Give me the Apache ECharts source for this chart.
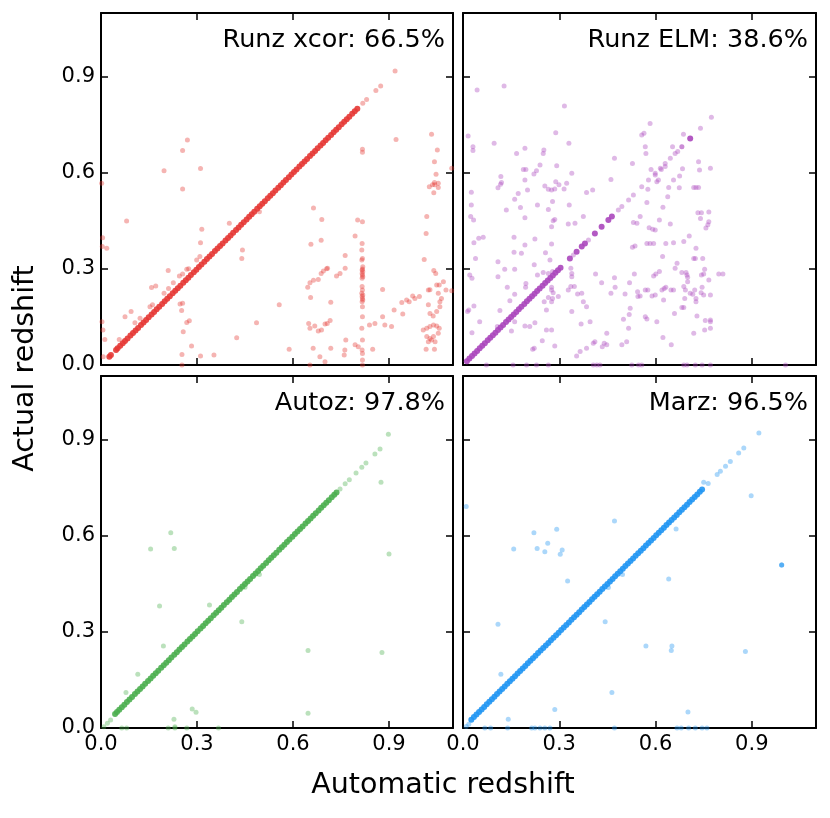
<!DOCTYPE html>
<html><head><meta charset="utf-8">
<script src="https://cdn.jsdelivr.net/npm/echarts@6/dist/echarts.min.js"></script>
<style>html,body{margin:0;padding:0;background:#fff}#c{width:830px;height:818px}</style>
</head><body><div id="c"></div><script>
// ---- text ----
const panelNames = ['Runz xcor: 66.5%', 'Runz ELM: 38.6%', 'Autoz: 97.8%', 'Marz: 96.5%'];
const xTitle = 'Automatic redshift';
const yTitle = 'Actual redshift';
const tickLabels = ['0.0', '0.3', '0.6', '0.9'];
const axisMin = 0, axisMax = 1.1, tickStep = 0.3;

// ---- Runz xcor ----
const xcorMatched = [0.026,0.031,0.047,0.052,0.06,0.068,0.075,0.083,0.092,0.1,0.108,0.116,0.125,0.133,0.141,0.149,0.158,0.166,0.174,0.182,0.191,0.199,0.207,0.215,0.224,0.232,0.24,0.248,0.257,0.265,0.273,0.281,0.29,0.298,0.306,0.314,0.323,0.331,0.339,0.347,0.356,0.364,0.372,0.38,0.389,0.397,0.405,0.413,0.422,0.43,0.438,0.446,0.455,0.463,0.471,0.479,0.488,0.496,0.504,0.512,0.521,0.529,0.537,0.545,0.554,0.562,0.57,0.578,0.587,0.595,0.603,0.611,0.62,0.628,0.636,0.644,0.653,0.661,0.669,0.677,0.686,0.694,0.702,0.71,0.719,0.727,0.735,0.743,0.752,0.76,0.768,0.776,0.785,0.793,0.801];
const xcorOther = [[0.002,0.568],[0.005,0.398],[0.018,0.365],[0.004,0.37],[0.003,0.135],[0.006,0.109],[0.012,0.08],[0.007,0.026],
[0.08,0.45],[0.197,0.607],[0.255,0.67],[0.27,0.703],[0.255,0.55],[0.311,0.614],[0.315,0.424],[0.311,0.382],[0.309,0.339],
[0.21,0.295],[0.247,0.191],[0.255,0.193],[0.252,0.17],[0.257,0.104],[0.268,0.133],[0.276,0.138],[0.253,0.033],[0.253,0],
[0.283,0.059],[0.311,0.028],[0.353,0.031],[0.401,0.443],[0.442,0.359],[0.44,0.333],[0.424,0.085],[0.486,0.132],[0.495,0.479],
[0.557,0.188],[0.588,0.049],[0.653,0],[0.664,0.491],[0.69,0.455],[0.656,0.377],[0.688,0.39],
[0.646,0.243],[0.653,0.257],[0.664,0.265],[0.679,0.267],[0.688,0.286],[0.695,0.294],[0.705,0.301],[0.708,0.302],
[0.655,0.211],[0.718,0.196],
[0.649,0.13],[0.653,0.115],[0.668,0.122],[0.679,0.106],[0.689,0.109],[0.7,0.128],[0.707,0.13],[0.716,0.139],
[0.663,0.052],[0.684,0.026],[0.7,0.01],[0.718,0.052],
[0.736,0.278],[0.747,0.286],[0.763,0.302],[0.763,0.342],[0.794,0.403],[0.802,0.453],[0.817,0.448],[0.817,0.674],[0.817,0.665],
[0.765,0.078],[0.762,0.047],[0.76,0.031],[0.794,0.063],[0.804,0.057],
[0.816,0.38],[0.815,0.359],[0.817,0.333],[0.815,0.328],[0.818,0.307],[0.817,0.3],[0.816,0.297],[0.818,0.292],[0.816,0.286],[0.817,0.281],[0.818,0.276],[0.816,0.271],
[0.816,0.245],[0.817,0.234],[0.815,0.224],[0.818,0.219],[0.816,0.214],[0.817,0.208],[0.818,0.203],[0.816,0.198],[0.817,0.182],[0.817,0.151],[0.815,0.115],[0.817,0.078],[0.816,0.047],[0.817,0.036],[0.817,0.016],[0.817,0],
[0.849,0.049],[0.839,0.125],[0.856,0.13],[0.88,0.151],[0.887,0.125],[0.908,0.12],[0.88,0.236],
[0.916,0.172],[0.943,0.159],[0.94,0.195],[0.955,0.203],[0.963,0.198],[0.974,0.216],[0.981,0.208],[0.995,0.214],
[0.922,0.705],[1.01,0.33],[1.016,0.411],[1.018,0.464],[1.033,0.721],[1.051,0.672],[1.042,0.635],[1.047,0.596],[1.042,0.57],
[1.026,0.557],[1.036,0.563],[1.043,0.563],[1.054,0.568],[1.054,0.555],[1.04,0.538],[1.096,0.615],
[1.04,0.295],[1.046,0.286],[1.023,0.234],[1.028,0.235],[1.049,0.25],[1.057,0.25],[1.07,0.26],
[1.023,0.188],[1.028,0.161],[1.038,0.153],[1.049,0.167],[1.059,0.182],[1.064,0.208],[1.054,0.224],[1.059,0.198],[1.078,0.234],[1.096,0.232],
[1.007,0.109],[1.018,0.115],[1.028,0.12],[1.039,0.125],[1.049,0.122],[1.054,0.099],[1.018,0.089],[1.028,0.083],[1.039,0.089],[1.023,0.073],[1.033,0.078],[1.044,0.073],[1.016,0.049],[1.042,0.049],[1.057,0.115],
[0.057,0.08],[0.075,0.151],[0.094,0.167],[0.106,0.132],[0.122,0.146],[0.153,0.182],[0.161,0.188],[0.158,0.242],[0.171,0.247],[0.197,0.224],[0.211,0.239],[0.226,0.257],[0.245,0.278],[0.255,0.284],[0.268,0.299],[0.274,0.301],[0.299,0.328],
[0.818,0.818],[0.83,0.83],[0.859,0.858],[0.874,0.872],[0.919,0.919]];

// ---- Runz ELM ----
const elmMatched = [0.012,0.02,0.028,0.036,0.044,0.052,0.06,0.068,0.077,0.085,0.093,0.101,0.109,0.117,0.125,0.134,0.142,0.15,0.158,0.166,0.174,0.182,0.191,0.199,0.207,0.215,0.223,0.231,0.239,0.248,0.256,0.264,0.272,0.28,0.288,0.296,0.304,0.333,0.354,0.37,0.38,0.411,0.432,0.453,0.464,0.708];
const elmOther = [[0.044,0.859],[0.128,0.872],[0.316,0.809],[0.016,0.716],[0.031,0.682],[0.031,0.67],[0.097,0.693],[0.193,0.677],[0.167,0.661],[0.252,0.672],[0.25,0.661],[0.289,0.726],[0.33,0.693],[0.292,0.623],[0.24,0.625],[0.188,0.611],[0.196,0.611],[0.229,0.607],[0.221,0.597],[0.118,0.589],[0.12,0.57],[0.117,0.565],[0.109,0.554],[0.172,0.536],[0.193,0.578],[0.201,0.547],[0.161,0.518],[0.135,0.484],[0.179,0.492],[0.193,0.46],[0.255,0.559],[0.266,0.549],[0.276,0.547],[0.286,0.55],[0.289,0.573],[0.299,0.563],[0.323,0.568],[0.315,0.55],[0.339,0.599],[0.279,0.511],[0.266,0.486],[0.281,0.451],[0.276,0.432],[0.286,0.455],[0.331,0.5],[0.328,0.441],[0.349,0.443],[0.375,0.464],[0.385,0.539],[0.404,0.547],[0.461,0.58],[0.472,0.646],[0.528,0.63],[0.557,0.719],[0.564,0.724],[0.583,0.755],[0.568,0.682],[0.57,0.661],[0.586,0.611],[0.599,0.594],[0.604,0.573],[0.609,0.578],[0.63,0.62],[0.618,0.611],[0.653,0.682],[0.669,0.667],[0.687,0.721],[0.684,0.613],[0.656,0.578],[0.675,0.591],[0.674,0.554],[0.641,0.555],[0.638,0.526],[0.576,0.549],[0.573,0.508],[0.623,0.493],[0.612,0.453],[0.58,0.429],[0.599,0.422],[0.591,0.424],[0.646,0.441],[0.552,0.464],[0.531,0.445],[0.542,0.443],[0.734,0.635],[0.737,0.609],[0.771,0.615],[0.719,0.555],[0.726,0.555],[0.734,0.555],[0.732,0.476],[0.743,0.476],[0.766,0.478],[0.74,0.458],[0.766,0.448],[0.763,0.438],[0.757,0.428],[0.705,0.403],[0.688,0.386],[0.656,0.382],[0.632,0.38],[0.594,0.38],[0.573,0.38],[0.583,0.38],[0.536,0.372],[0.528,0.368],[0.622,0.339],[0.612,0.292],[0.601,0.284],[0.594,0.278],[0.599,0.219],[0.589,0.216],[0.576,0.234],[0.568,0.234],[0.552,0.216],[0.545,0.214],[0.544,0.229],[0.534,0.284],[0.519,0.257],[0.472,0.273],[0.474,0.243],[0.432,0.257],[0.413,0.284],[0.461,0.224],[0.505,0.222],[0.521,0.177],[0.518,0.158],[0.5,0.143],[0.516,0.115],[0.568,0.151],[0.573,0.144],[0.604,0.135],[0.62,0.234],[0.627,0.239],[0.632,0.243],[0.625,0.203],[0.648,0.234],[0.656,0.234],[0.661,0.302],[0.667,0.318],[0.682,0.289],[0.695,0.289],[0.7,0.274],[0.698,0.281],[0.7,0.26],[0.688,0.245],[0.693,0.234],[0.708,0.224],[0.716,0.221],[0.722,0.234],[0.719,0.333],[0.724,0.333],[0.726,0.365],[0.747,0.333],[0.753,0.299],[0.743,0.281],[0.75,0.284],[0.766,0.266],[0.745,0.243],[0.742,0.226],[0.75,0.219],[0.771,0.219],[0.726,0.208],[0.726,0.198],[0.691,0.208],[0.659,0.161],[0.682,0.18],[0.688,0.18],[0.729,0.153],[0.755,0.139],[0.771,0.141],[0.771,0.135],[0.753,0.109],[0.771,0.115],[0.719,0.099],[0.797,0.284],[0.81,0.284],[0.623,0.086],[0.649,0.063],[0.51,0.073],[0.495,0.063],[0.448,0.099],[0.44,0.068],[0.434,0.057],[0.448,0.063],[0.411,0.073],[0.406,0.068],[0.385,0.052],[0.365,0.042],[0.354,0.028],[0.396,0.135],[0.385,0.182],[0.375,0.198],[0.357,0.222],[0.37,0.224],[0.347,0.245],[0.336,0.245],[0.339,0.286],[0.339,0.276],[0.336,0.302],[0.328,0.234],[0.339,0.167],[0.368,0.128],[0.286,0.059],[0.247,0.076],[0.222,0.052],[0.217,0.049],[0.26,0.109],[0.276,0.109],[0.208,0.12],[0.193,0.122],[0.224,0.132],[0.26,0.172],[0.253,0.198],[0.276,0.198],[0.279,0.208],[0.276,0.234],[0.281,0.226],[0.276,0.243],[0.266,0.211],[0.297,0.214],[0.279,0.292],[0.266,0.286],[0.25,0.289],[0.271,0.328],[0.257,0.351],[0.276,0.378],[0.232,0.281],[0.222,0.313],[0.196,0.255],[0.195,0.243],[0.193,0.375],[0.182,0.349],[0.159,0.352],[0.159,0.399],[0.224,0.394],[0.161,0.299],[0.13,0.299],[0.109,0.323],[0.109,0.276],[0.138,0.243],[0.161,0.221],[0.146,0.201],[0.115,0.17],[0.151,0.106],[0.107,0.12],[0.161,0.135],[0.052,0.135],[0.028,0.101],[0.034,0.184],[0.014,0.167],[0.018,0.172],[0.021,0.281],[0.028,0.271],[0.039,0.333],[0.034,0.382],[0.049,0.396],[0.063,0.399],[0.024,0.464],[0.033,0.453],[0.026,0.5],[0.026,0.54],[0.232,0.5],
[0.073,0],[0.156,0],[0.198,0],[0.229,0],[0.266,0],[0.406,0],[0.417,0],[0.427,0],[0.526,0],[0.547,0],[0.557,0],[0.688,0],[0.698,0],[0.724,0],[0.745,0],[0.771,0],[1.005,0],
[0.344,0.344],[0.391,0.391],[0.484,0.484],[0.495,0.495],[0.516,0.516],[0.531,0.531],[0.557,0.557],[0.578,0.578],[0.599,0.599],[0.615,0.615],[0.63,0.63],[0.646,0.646],[0.661,0.661],[0.682,0.682],[0.682,0.682],[0.74,0.74],[0.774,0.774]];

// ---- Autoz ----
const autozMatched = [0.044,0.05,0.057,0.065,0.073,0.081,0.089,0.097,0.106,0.114,0.122,0.13,0.138,0.147,0.155,0.163,0.171,0.179,0.188,0.196,0.204,0.212,0.22,0.229,0.237,0.245,0.253,0.261,0.27,0.278,0.286,0.294,0.302,0.311,0.319,0.327,0.335,0.343,0.352,0.36,0.368,0.376,0.384,0.393,0.401,0.409,0.417,0.425,0.434,0.442,0.45,0.458,0.466,0.475,0.483,0.491,0.499,0.507,0.516,0.524,0.532,0.54,0.548,0.557,0.565,0.573,0.581,0.589,0.598,0.606,0.614,0.622,0.63,0.639,0.647,0.655,0.663,0.671,0.68,0.688,0.696,0.704,0.712,0.721,0.729,0.736];
const autozOther = [[0.009,0.004],[0.02,0.015],[0.03,0.025],[0.747,0.747],[0.763,0.763],[0.776,0.776],[0.797,0.797],[0.815,0.815],[0.828,0.828],[0.856,0.856],[0.872,0.872],[0.898,0.918],
[0.875,0.768],[0.9,0.544],[0.878,0.236],[0.647,0.242],[0.647,0.046],[0.44,0.332],[0.339,0.384],[0.45,0.44],[0.495,0.48],[0.218,0.61],[0.229,0.561],[0.155,0.559],[0.183,0.381],[0.195,0.256],[0.115,0.168],[0.078,0.111],[0.285,0.059],[0.297,0.049],[0.228,0.027],[0.231,0.004],
[0.065,0],[0.08,0],[0.21,0],[0.231,0],[0.268,0],[0.367,0]];

// ---- Marz ----
const marzMatched = [0.026,0.034,0.042,0.05,0.058,0.066,0.074,0.082,0.09,0.098,0.106,0.114,0.122,0.13,0.138,0.146,0.154,0.162,0.17,0.178,0.186,0.194,0.202,0.21,0.218,0.226,0.234,0.242,0.25,0.258,0.266,0.274,0.282,0.29,0.298,0.306,0.314,0.322,0.33,0.338,0.346,0.354,0.362,0.37,0.378,0.386,0.394,0.402,0.41,0.418,0.426,0.434,0.442,0.45,0.458,0.466,0.474,0.482,0.49,0.498,0.506,0.514,0.522,0.53,0.538,0.546,0.554,0.562,0.57,0.578,0.586,0.594,0.602,0.61,0.618,0.626,0.634,0.642,0.65,0.658,0.666,0.674,0.682,0.69,0.698,0.706,0.714,0.722,0.73,0.738,0.745];
const marzOther = [[0.01,0.005],[0.018,0.012],[0.75,0.768],[0.764,0.764],[0.792,0.792],[0.802,0.802],[0.818,0.818],[0.833,0.833],[0.859,0.859],[0.875,0.875],[0.922,0.922],
[0.01,0.692],[0.221,0.61],[0.292,0.621],[0.472,0.647],[0.664,0.622],[0.158,0.559],[0.231,0.561],[0.255,0.551],[0.264,0.577],[0.303,0.543],[0.309,0.556],[0.326,0.459],[0.641,0.466],[0.993,0.509],[0.993,0.509],[0.993,0.509],[0.898,0.726],[0.453,0.439],[0.497,0.48],[0.443,0.332],[0.109,0.324],[0.118,0.168],[0.57,0.256],[0.651,0.256],[0.649,0.242],[0.88,0.239],[0.464,0.111],[0.286,0.058],[0.141,0.027],[0.701,0.05],
[0.068,0],[0.086,0],[0.139,0],[0.214,0],[0.224,0],[0.24,0],[0.255,0],[0.271,0],[0.472,0],[0.667,0],[0.68,0],[0.703,0],[0.724,0],[0.745,0],[0.76,0]];

// ---- build ----
const matchedSets = [xcorMatched, elmMatched, autozMatched, marzMatched];
const otherSets = [xcorOther, elmOther, autozOther, marzOther];
const colors = ['#E53935', '#AB47BC', '#4CAF50', '#2196F3'];
const FONT = 'DejaVu Sans';
const grids = [
  {left: 101, top: 13, width: 352, height: 352},
  {left: 463, top: 13, width: 353, height: 352},
  {left: 101, top: 376, width: 352, height: 352},
  {left: 463, top: 376, width: 353, height: 352}
];
function axis(gridIndex, position, showLabels) {
  return {
    type: 'value', gridIndex, position, min: axisMin, max: axisMax, interval: tickStep,
    axisLine: {show: true, onZero: false, lineStyle: {color: '#000', width: 2}},
    axisTick: {show: true, inside: true, length: 7, lineStyle: {color: '#000', width: 1.5}},
    axisLabel: {show: showLabels, color: '#000', fontSize: 21, fontFamily: FONT, margin: 6,
      showMaxLabel: false, formatter: v => tickLabels[Math.round(v / tickStep)] ?? ''},
    splitLine: {show: false}
  };
}
const xAxes = [], yAxes = [], series = [], graphics = [];
grids.forEach((g, i) => {
  const bottomRow = i >= 2, leftCol = i % 2 === 0;
  xAxes.push(axis(i, 'bottom', bottomRow), axis(i, 'top', false));
  yAxes.push(axis(i, 'left', leftCol), axis(i, 'right', false));
  series.push({
    type: 'scatter', xAxisIndex: 2 * i, yAxisIndex: 2 * i, silent: true,
    symbolSize: 5, itemStyle: {color: colors[i], opacity: 0.38},
    data: otherSets[i]
  });
  series.push({
    type: 'scatter', xAxisIndex: 2 * i, yAxisIndex: 2 * i, silent: true,
    symbolSize: 6, itemStyle: {color: colors[i], opacity: 0.9},
    data: matchedSets[i].map(z => [z, z])
  });
  graphics.push({type: 'text', x: g.left + g.width - 8, y: g.top + 27,
    style: {text: panelNames[i], fontSize: 25.5, fontFamily: FONT, fill: '#000', textAlign: 'right', textVerticalAlign: 'middle'}});
});
graphics.push({type: 'text', x: 443, y: 786,
  style: {text: xTitle, fontSize: 28.5, fontFamily: FONT, fill: '#000', textAlign: 'center', textVerticalAlign: 'middle'}});
graphics.push({type: 'text', x: 25.5, y: 368.5, rotation: Math.PI / 2,
  style: {text: yTitle, fontSize: 28.5, fontFamily: FONT, fill: '#000', textAlign: 'center', textVerticalAlign: 'middle'}});

const chart = echarts.init(document.getElementById('c'), null, {renderer: 'canvas'});
chart.setOption({
  animation: false,
  backgroundColor: '#fff',
  grid: grids,
  xAxis: xAxes,
  yAxis: yAxes,
  series,
  graphic: graphics
});
</script></body></html>
